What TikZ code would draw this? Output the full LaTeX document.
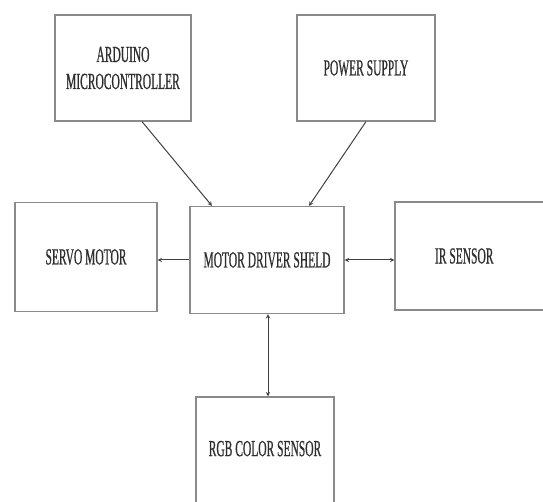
\documentclass[tikz,border=0pt]{standalone}
\usepackage{fontspec}
\usepackage{tikz}
\usetikzlibrary{shapes,positioning,arrows}
\newfontfamily\blockfont[FakeStretch=0.5,FakeBold=0.6]{Liberation Serif}
\definecolor{boxgray}{HTML}{8A8A8A}
\definecolor{txtgray}{HTML}{2E2E2E}
\definecolor{arrgray}{HTML}{404040}

\begin{document}
\begin{tikzpicture}[x=1pt,y=1pt,>=stealth,
	  block/.style = {shape=rectangle, draw=boxgray, line width=1.2pt,
	    align=center, text=txtgray, inner sep=0pt,
	    font=\blockfont\fontsize{23}{27}\selectfont},
	  link/.style = {draw=arrgray, line width=1pt}]
	  \useasboundingbox (0,0) rectangle (543,501);
	  \clip (0,0) rectangle (543,501);
	  \node[block, minimum width=136, minimum height=106] (ard) at (123,433) {ARDUINO\\MICROCONTROLLER};
	  \node[block, minimum width=138, minimum height=106] (pow) at (366,433) {POWER SUPPLY};
	  \node[block, minimum width=142, minimum height=109] (servo) at (86,244) {SERVO MOTOR};
	  \node[block, minimum width=154, minimum height=107] (mds) at (267,241) {MOTOR DRIVER SHELD};
	  \node[block, minimum width=150, minimum height=108] (ir) at (470,245) {\makebox[150pt][l]{\hspace{40pt}IR SENSOR}};
	  \node[block, minimum width=138, minimum height=106] (rgb) at (265,51) {\raisebox{3pt}{RGB COLOR SENSOR}};
	  \draw[link,->] ([xshift=19]ard.south) -- ([xshift=-55]mds.north);
	  \draw[link,->] (pow.south) -- ([xshift=42]mds.north);
	  \draw[link,->] (mds.west) -- (mds.west -| servo.east);
	  \draw[link,<->] (mds.east) -- (mds.east -| ir.west);
	  \draw[link,<->] ([xshift=1]mds.south) -- ([xshift=3]rgb.north);
	\end{tikzpicture}
\end{document}
